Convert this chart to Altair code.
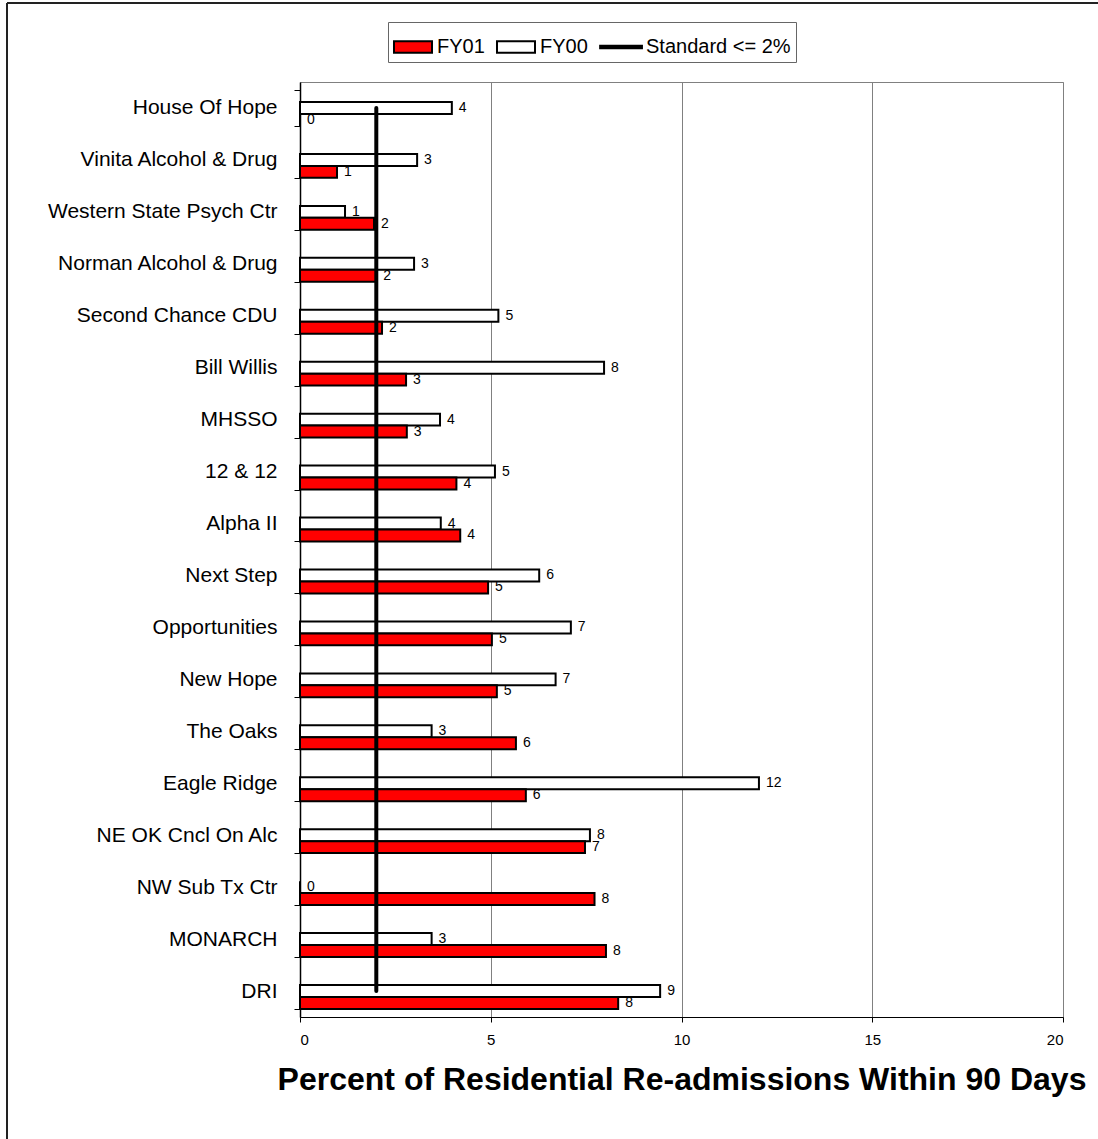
import altair as alt
import pandas as pd

categories = [
    "House Of Hope", "Vinita Alcohol & Drug", "Western State Psych Ctr",
    "Norman Alcohol & Drug", "Second Chance CDU", "Bill Willis", "MHSSO",
    "12 & 12", "Alpha II", "Next Step", "Opportunities", "New Hope",
    "The Oaks", "Eagle Ridge", "NE OK Cncl On Alc", "NW Sub Tx Ctr",
    "MONARCH", "DRI",
]
fy01 = [0, 0.97, 1.94, 2.0, 2.15, 2.78, 2.8, 4.1, 4.2, 4.93, 5.03, 5.16,
        5.66, 5.92, 7.47, 7.72, 8.02, 8.34]
fy00 = [3.98, 3.07, 1.18, 2.99, 5.2, 7.97, 3.67, 5.11, 3.69, 6.27, 7.1, 6.7,
        3.45, 12.03, 7.6, 0, 3.45, 9.44]
standard = 2
series_names = ["FY01", "FY00", "Standard <= 2%"]
x_ticks = [0, 5, 10, 15, 20]
x_title = "Percent of Residential Re-admissions Within 90 Days"

rows = []
for c, a, b in zip(categories, fy01, fy00):
    rows.append({"category": c, "series": "FY00", "value": b})
    rows.append({"category": c, "series": "FY01", "value": a})
bars_df = pd.DataFrame(rows)
std_df = pd.DataFrame({"category": categories,
                       "series": ["Standard <= 2%"] * len(categories),
                       "value": [standard] * len(categories)})

FONT = "Liberation Sans"

RECT = "M-1,-0.3H1V0.3H-1Z"
LINE = "M-1.15,-0.06H1.05V0.06H-1.15Z"

def make_legend():
    return alt.Legend(
        title=None, orient="none", legendX=88, legendY=-60,
        direction="horizontal", strokeColor="#666666", padding=5,
        labelFont=FONT, labelFontSize=20, labelColor="black",
        labelOffset=4, columnPadding=8, symbolSize=1444,
        symbolStrokeWidth=2, symbolStrokeColor="black", symbolOpacity=1,
    )

y_axis = alt.Axis(
    title=None, labelFont=FONT, labelFontSize=21, labelColor="black",
    labelPadding=17, tickSize=6, tickBand="extent", tickColor="black",
    domainColor="black", domainWidth=1.5, labelLimit=400,
)
x_axis = alt.Axis(
    values=x_ticks, title=x_title, titleFont=FONT, titleFontSize=32,
    titleFontWeight="bold", titleColor="black", titlePadding=17,
    labelFont=FONT, labelFontSize=15, labelColor="black", labelPadding=10,
    tickSize=5, tickColor="black", domainColor="black", grid=True,
    gridColor="#808080", gridWidth=1,
)

y_scale = alt.Scale(paddingInner=0.31, paddingOuter=0.155)
x_scale = alt.Scale(domain=[0, 20], nice=False)
yoff_scale = alt.Scale(domain=["Standard <= 2%", "FY00", "FY01"],
                       paddingInner=0, paddingOuter=0)

fill_scale = alt.Scale(domain=series_names, range=["#FF0000", "#FFFFFF", "#000000"])
stroke_scale = alt.Scale(domain=series_names, range=["#000000", "#000000", "#000000"])
shape_scale = alt.Scale(domain=series_names, range=[RECT, RECT, LINE])

bars = alt.Chart(bars_df).mark_bar(stroke="black", strokeWidth=2).encode(
    x=alt.X("value:Q", scale=x_scale, axis=x_axis),
    y=alt.Y("category:N", sort=categories, scale=y_scale, axis=y_axis),
    yOffset=alt.YOffset("series:N", scale=yoff_scale),
    fill=alt.Fill("series:N", scale=fill_scale, legend=make_legend()),
)

line = alt.Chart(std_df).mark_line(strokeWidth=4, strokeCap="round").encode(
    x=alt.X("value:Q"),
    y=alt.Y("category:N", sort=categories),
    stroke=alt.Stroke("series:N", scale=stroke_scale, legend=make_legend()),
)

shape_layer = alt.Chart(std_df).transform_filter("datum.value < 0").mark_point(
    filled=True, opacity=1).encode(
    x=alt.X("value:Q"),
    y=alt.Y("category:N", sort=categories),
    shape=alt.Shape("series:N", scale=shape_scale, legend=make_legend()),
)

labels = alt.Chart(bars_df).mark_text(
    align="left", baseline="middle", dx=7, fontSize=14, font=FONT, color="black"
).encode(
    x=alt.X("value:Q"),
    y=alt.Y("category:N", sort=categories),
    yOffset=alt.YOffset("series:N"),
    text=alt.Text("value:Q", format=".0f"),
)

frame_df = pd.DataFrame({"k": [0]})
frame_top = alt.Chart(frame_df).mark_rule(color="#222222", strokeWidth=2).encode(
    x=alt.value(-293), x2=alt.value(798), y=alt.value(-79))
frame_left = alt.Chart(frame_df).mark_rule(color="#222222", strokeWidth=2).encode(
    x=alt.value(-293), y=alt.value(-79), y2=alt.value(1057))

chart = alt.layer(bars, line, shape_layer, labels, frame_top, frame_left).properties(
    width=763, height=935,
    padding={"left": 300, "top": 82, "right": 35, "bottom": 122},
    autosize=alt.AutoSizeParams(type="none"),
    background="white",
).configure_view(stroke="#808080", strokeWidth=1)

chart.save("out.html", embed_options={"renderer": "svg", "actions": False})
